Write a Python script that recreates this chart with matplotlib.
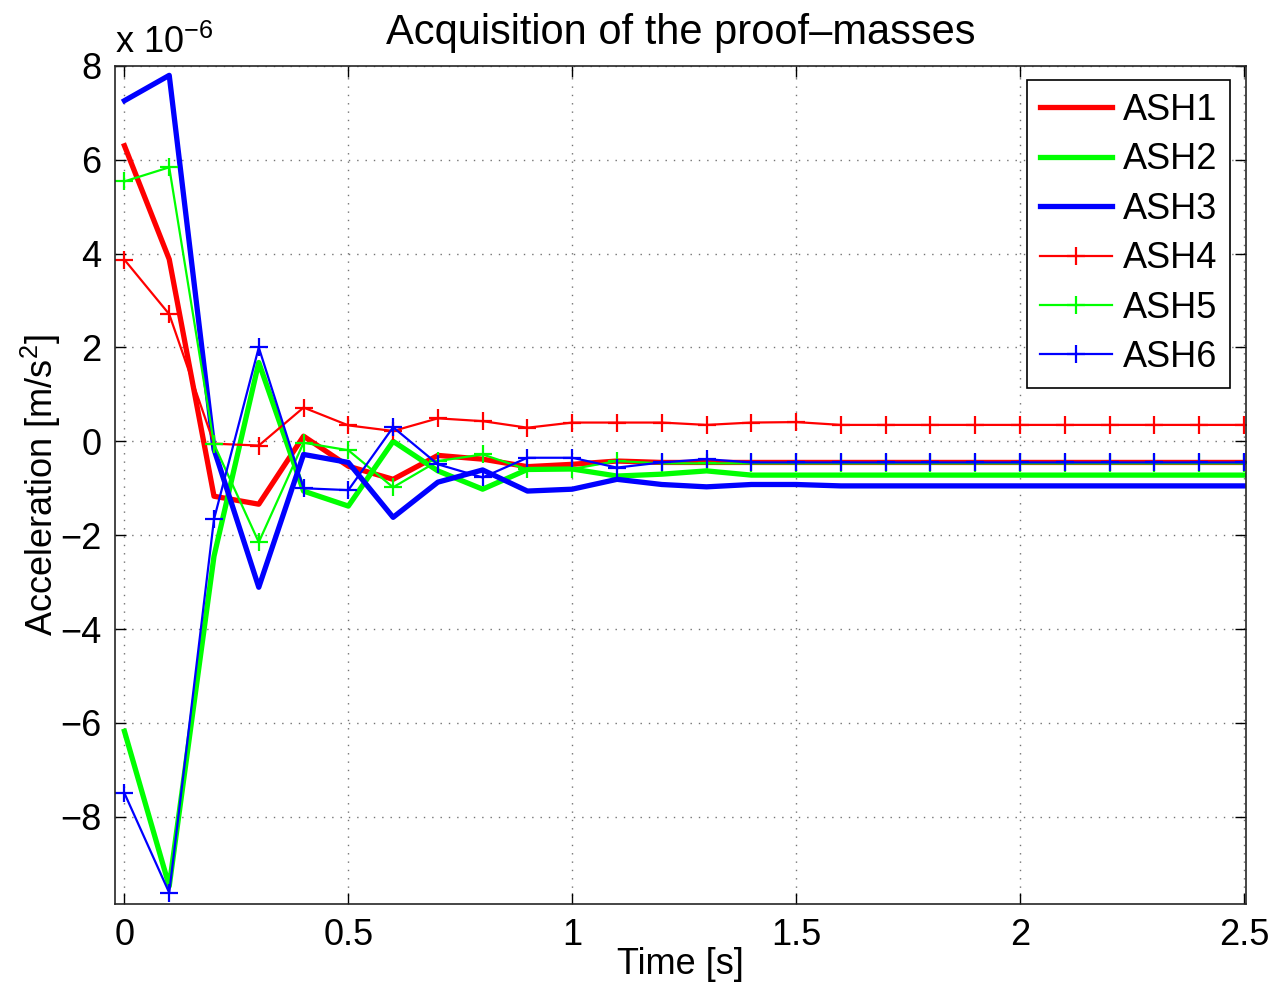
import numpy as np
import matplotlib
matplotlib.use("Agg")
import matplotlib.pyplot as plt

plt.rcParams['font.family'] = ['Liberation Sans', 'DejaVu Sans']
plt.rcParams['mathtext.fontset'] = 'custom'
plt.rcParams['mathtext.rm'] = 'Liberation Sans'
plt.rcParams['mathtext.it'] = 'Liberation Sans'
plt.rcParams['mathtext.default'] = 'regular'

# time axis [s]
time = [round(0.1 * i, 1) for i in range(26)]

# accelerations in units of 1e-6 m/s^2
ash1 = [6.30, 3.88, -1.17, -1.34, 0.11, -0.53, -0.81, -0.30, -0.38, -0.54, -0.49, -0.42,
        -0.45, -0.45, -0.45, -0.45, -0.45, -0.45, -0.45, -0.45, -0.45, -0.45, -0.45, -0.45, -0.45, -0.45]
ash2 = [-6.18, -9.48, -2.45, 1.68, -1.06, -1.38, 0.00, -0.63, -1.02, -0.60, -0.59, -0.74,
        -0.70, -0.63, -0.72, -0.72, -0.72, -0.72, -0.72, -0.72, -0.72, -0.72, -0.72, -0.72, -0.72, -0.72]
ash3 = [7.26, 7.80, -0.17, -3.11, -0.28, -0.45, -1.62, -0.87, -0.61, -1.06, -1.02, -0.81,
        -0.92, -0.97, -0.92, -0.92, -0.95, -0.95, -0.95, -0.95, -0.95, -0.95, -0.95, -0.95, -0.95, -0.95]
ash4 = [3.87, 2.71, -0.05, -0.09, 0.72, 0.34, 0.22, 0.49, 0.43, 0.29, 0.40, 0.40,
        0.40, 0.35, 0.40, 0.41, 0.35, 0.35, 0.35, 0.35, 0.35, 0.35, 0.35, 0.35, 0.35, 0.35]
ash5 = [5.54, 5.84, -0.06, -2.15, -0.03, -0.19, -0.98, -0.42, -0.28, -0.60, -0.59, -0.42,
        -0.47, -0.47, -0.47, -0.47, -0.47, -0.47, -0.47, -0.47, -0.47, -0.47, -0.47, -0.47, -0.47, -0.47]
ash6 = [-7.50, -9.62, -1.66, 2.00, -1.00, -1.04, 0.30, -0.49, -0.77, -0.35, -0.35, -0.56,
        -0.45, -0.38, -0.45, -0.45, -0.45, -0.45, -0.45, -0.45, -0.45, -0.45, -0.45, -0.45, -0.45, -0.45]

labels = ['ASH1', 'ASH2', 'ASH3', 'ASH4', 'ASH5', 'ASH6']
xticks = [0, 0.5, 1, 1.5, 2, 2.5]
xticklabels = ['0', '0.5', '1', '1.5', '2', '2.5']
yticks = [-8, -6, -4, -2, 0, 2, 4, 6, 8]

fig = plt.figure(figsize=(12.74, 9.86), dpi=100)
ax = fig.add_axes([0.0903, 0.0832, 0.8878, 0.8499])

FS = 26
thick = 3.8
thin = 1.6
ms = 13

ax.plot(time, ash1, color=(1, 0, 0), lw=thick, label=labels[0])
ax.plot(time, ash2, color=(0, 1, 0), lw=thick, label=labels[1])
ax.plot(time, ash3, color=(0, 0, 1), lw=thick, label=labels[2])
ax.plot(time, ash4, color=(1, 0, 0), lw=thin, marker='+', ms=ms, mew=1.6, label=labels[3])
ax.plot(time, ash5, color=(0, 1, 0), lw=thin, marker='+', ms=ms, mew=1.6, label=labels[4])
ax.plot(time, ash6, color=(0, 0, 1), lw=thin, marker='+', ms=ms, mew=1.6, label=labels[5])

ax.set_xlim(-0.021, 2.505)
ax.set_ylim(-9.86, 8)
ax.set_xticks(xticks)
ax.set_xticklabels(xticklabels)
ax.set_yticks(yticks)
ax.set_yticklabels([str(v).replace('-', '\u2212') for v in yticks])
ax.tick_params(direction='in', length=8, width=1, labelsize=FS, top=True, right=True, pad=10)
ax.grid(True, linestyle=(0, (1, 5)), color='0.45', linewidth=1)
for s in ax.spines.values():
    s.set_linewidth(1.2)
    s.set_color('0.15')

ax.set_title('Acquisition of the proof\u2013masses', fontsize=30, pad=16)
ax.set_xlabel('Time [s]', fontsize=FS, labelpad=-4)
ax.set_ylabel('Acceleration [m/s$^2$]', fontsize=FS, labelpad=-2)
ax.text(0.0, 1.006, 'x 10$^{\u22126}$', transform=ax.transAxes, fontsize=FS,
        ha='left', va='bottom')

leg = ax.legend(loc='upper right', bbox_to_anchor=(0.986, 0.983), borderaxespad=0,
                fontsize=FS, fancybox=False, framealpha=1, edgecolor='black',
                handlelength=2.0, handletextpad=0.3, labelspacing=0.4, borderpad=0.35,
                numpoints=1)
leg.get_frame().set_linewidth(1.2)

fig.savefig('out.png', dpi=100)
